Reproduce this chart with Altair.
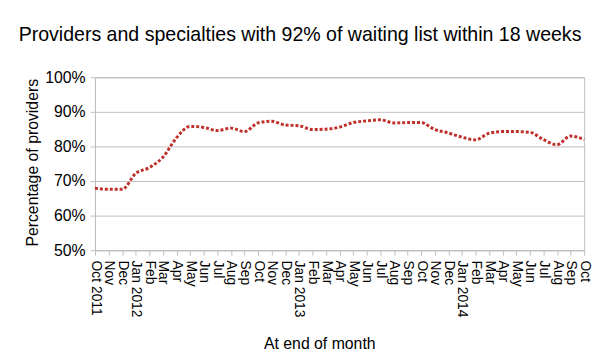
import altair as alt
import pandas as pd

months = ["2011-10", "2011-11", "2011-12", "2012-01", "2012-02", "2012-03", "2012-04",
          "2012-05", "2012-06", "2012-07", "2012-08", "2012-09", "2012-10", "2012-11",
          "2012-12", "2013-01", "2013-02", "2013-03", "2013-04", "2013-05", "2013-06",
          "2013-07", "2013-08", "2013-09", "2013-10", "2013-11", "2013-12", "2014-01",
          "2014-02", "2014-03", "2014-04", "2014-05", "2014-06", "2014-07", "2014-08",
          "2014-09", "2014-10"]
tick_labels = ["Oct 2011", "Nov", "Dec", "Jan 2012", "Feb", "Mar", "Apr", "May", "Jun", "Jul",
               "Aug", "Sep", "Oct", "Nov", "Dec", "Jan 2013", "Feb", "Mar", "Apr", "May", "Jun",
               "Jul", "Aug", "Sep", "Oct", "Nov", "Dec", "Jan 2014", "Feb", "Mar", "Apr", "May",
               "Jun", "Jul", "Aug", "Sep", "Oct"]
pct_providers = [67.9, 67.6, 67.6, 72.2, 73.9, 76.9, 82.5, 85.8, 85.5, 84.6, 85.3, 84.3, 86.8,
                 87.3, 86.2, 86.0, 84.9, 85.0, 85.6, 86.9, 87.4, 87.7, 86.8, 86.9, 86.9, 84.9,
                 83.9, 82.7, 81.9, 83.8, 84.3, 84.3, 84.1, 82.0, 80.5, 83.0, 82.0]

df = pd.DataFrame({"month": months, "value": pct_providers})

keys_js = "[" + ",".join("'" + m + "'" for m in months) + "]"
labs_js = "[" + ",".join("'" + l + "'" for l in tick_labels) + "]"
label_expr = f"{labs_js}[indexof({keys_js}, datum.value)]"

FONT = "Liberation Sans"
GRAY = "#c0c0c0"

chart = alt.Chart(df).mark_line(
    color="#c0302b", strokeWidth=3, strokeDash=[3, 2], interpolate="monotone"
).encode(
    x=alt.X("month:O", sort=months, scale=alt.Scale(type="point", padding=0),
            axis=alt.Axis(title="At end of month", labelExpr=label_expr, labelAngle=90,
                          labelAlign="left", labelBaseline="middle", labelPadding=5,
                          labelFontSize=14, labelFont=FONT, labelColor="black",
                          tickSize=5, tickColor=GRAY, domainColor=GRAY,
                          grid=False, labelOverlap=False,
                          titleFont=FONT, titleFontSize=16, titleFontWeight="normal",
                          titleColor="black", titleX=227, titleY=94,
                          titleAlign="center", titleBaseline="middle")),
    y=alt.Y("value:Q", scale=alt.Scale(domain=[50, 100], nice=False, zero=False),
            axis=alt.Axis(title="Percentage of providers", values=[50, 60, 70, 80, 90, 100],
                          labelExpr="datum.value + '%'", labelFontSize=16, labelFont=FONT,
                          labelColor="black", labelPadding=5,
                          tickSize=5, tickColor=GRAY, domainColor=GRAY,
                          gridColor=GRAY, titleFont=FONT, titleFontSize=16,
                          titleFontWeight="normal", titleColor="black",
                          titleX=-63, titleY=86, titleAngle=-90, titleAlign="center",
                          titleBaseline="middle")),
).properties(
    width=495, height=175,
    title=alt.TitleParams("Providers and specialties with 92% of waiting list within 18 weeks",
                          font=FONT, fontSize=19.8, fontWeight="normal", color="black",
                          anchor="middle", dx=-40, dy=25, offset=34, baseline="alphabetic"),
    autosize=alt.AutoSizeParams(type="none"),
    padding={"left": 88, "top": 68, "right": 12, "bottom": 110},
).configure_view(stroke=GRAY, strokeWidth=1)

chart.save("out.html", embed_options={"renderer": "svg", "actions": False})
